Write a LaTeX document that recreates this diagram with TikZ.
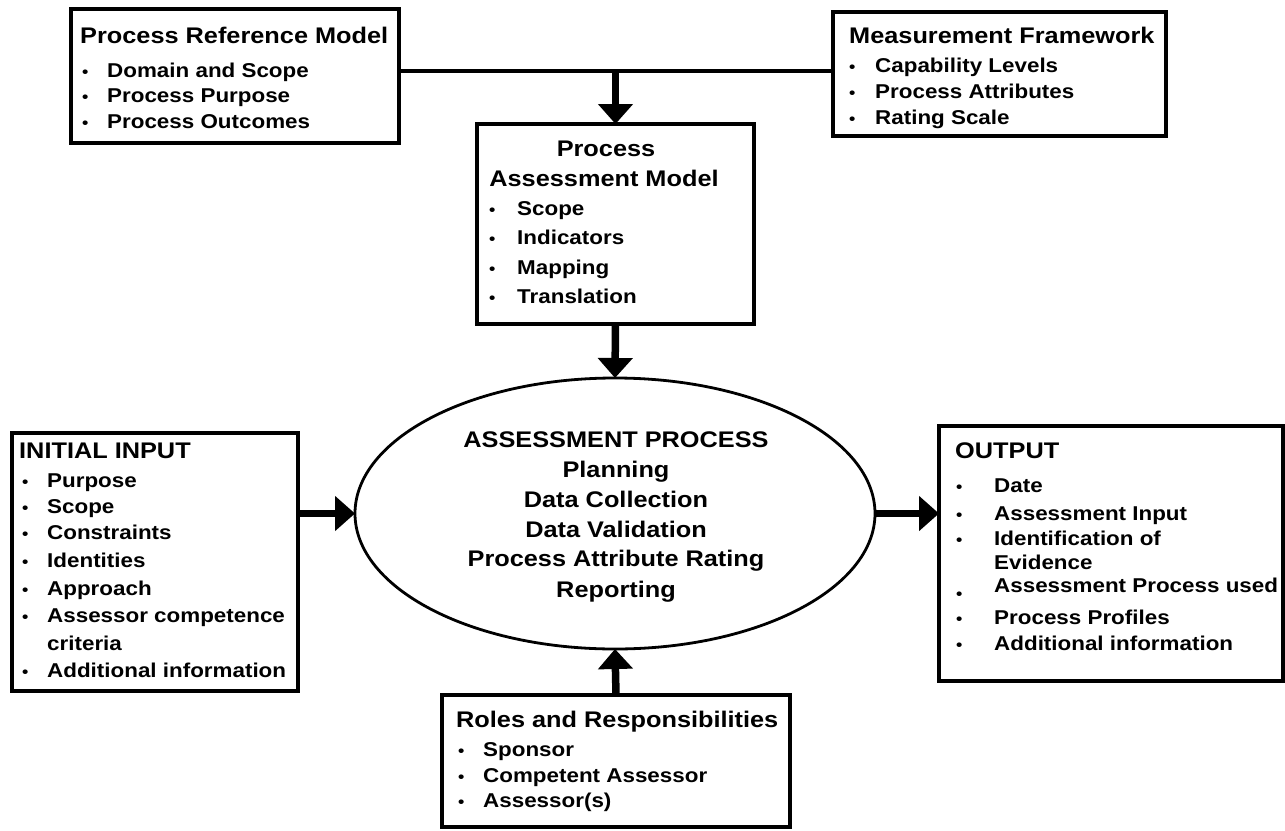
\documentclass[tikz,border=0pt]{standalone}
\usepackage{fontspec}
\setmainfont{Liberation Sans}[FakeStretch=1.12]
\usetikzlibrary{shapes.geometric,arrows.meta}
% #1 name, #2 bullet x, #3 text x, #4 baseline y, #5 text
\newcommand{\bulletline}[5]{%
  \node[bulletdot] (#1b) at (#2,#4) {•};
  \node[itemtext] (#1) at (#3,#4) {#5};}
\begin{document}
\begin{tikzpicture}[x=1pt,y=-1pt,
  box/.style={draw=black, line width=3.2pt, rectangle, inner sep=0pt, outer sep=0pt, anchor=north west},
  titletext/.style={font=\fontsize{22.6}{27}\selectfont\bfseries, inner sep=0pt, anchor=base west},
  itemtext/.style={font=\fontsize{20}{24}\selectfont\bfseries, inner sep=0pt, anchor=base west},
  bulletdot/.style={font=\fontsize{16}{18}\selectfont\bfseries, inner sep=0pt, anchor=base west},
  centertext/.style={font=\fontsize{22.6}{27}\selectfont\bfseries, inner sep=0pt, anchor=base},
  bigarrow/.style={line width=7.5pt, -{Triangle[length=20pt,width=34pt]}},
  joinline/.style={line width=4pt}]
\fill[white] (0,0) rectangle (1285,830);
\useasboundingbox (0,0) rectangle (1285,830);

% boxes
\node[box, minimum width=328pt, minimum height=134pt] (prm) at (71,9) {};
\node[box, minimum width=333pt, minimum height=124pt] (mf) at (833,12) {};
\node[box, minimum width=277pt, minimum height=200pt] (pam) at (477,124) {};
\node[draw=black, line width=2.8pt, ellipse, minimum width=520pt, minimum height=271pt, inner sep=0pt, outer sep=0pt] (ap) at (615,513.5) {};
\node[box, minimum width=286pt, minimum height=258pt] (ii) at (12,433) {};
\node[box, minimum width=344pt, minimum height=255pt] (out) at (939,426) {};
\node[box, minimum width=348pt, minimum height=132pt] (rr) at (442,695) {};

% connectors
\coordinate (j) at (615.5,71);
\draw[joinline] (j -| prm.east) -- (j -| mf.west);
\draw[bigarrow] (j) -- (pam.north);
\draw[bigarrow] (pam.south) -- (ap.north);
\draw[bigarrow] (ap.west -| ii.east) -- (ap.west);
\draw[bigarrow] (ap.east) -- (ap.east -| out.west);
\draw[bigarrow] (rr.north) -- (ap.south);

% Process Reference Model
\node[titletext] (prmt) at (80,43) {Process Reference Model};
\bulletline{prma}{82}{107}{77}{Domain and Scope}
\bulletline{prmb}{82}{107}{102}{Process Purpose}
\bulletline{prmc}{82}{107}{128}{Process Outcomes}

% Measurement Framework
\node[titletext] (mft) at (849,43) {Measurement Framework};
\bulletline{mfa}{849}{875}{72}{Capability Levels}
\bulletline{mfb}{849}{875}{98}{Process Attributes}
\bulletline{mfc}{849}{875}{124}{Rating Scale}

% Process Assessment Model
\node[centertext] (pamt1) at (606,156) {Process};
\node[centertext] (pamt2) at (604,186) {Assessment Model};
\bulletline{pama}{489}{517}{215}{Scope}
\bulletline{pamb}{489}{517}{244}{Indicators}
\bulletline{pamc}{489}{517}{274}{Mapping}
\bulletline{pamd}{489}{517}{303}{Translation}

% Assessment process
\node[centertext] (apa) at (616,447) {ASSESSMENT PROCESS};
\node[centertext] (apb) at (616,477) {Planning};
\node[centertext] (apc) at (616,507) {Data Collection};
\node[centertext] (apd) at (616,537) {Data Validation};
\node[centertext] (ape) at (616,566) {Process Attribute Rating};
\node[centertext] (apf) at (616,597) {Reporting};

% Initial input
\node[titletext] (iit) at (19,458) {INITIAL INPUT};
\bulletline{iia}{22}{47}{487}{Purpose}
\bulletline{iib}{22}{47}{513}{Scope}
\bulletline{iic}{22}{47}{539}{Constraints}
\bulletline{iid}{22}{47}{567}{Identities}
\bulletline{iie}{22}{47}{595}{Approach}
\bulletline{iif}{22}{47}{622}{Assessor competence}
\node[itemtext] (iif2) at (47,650) {criteria};
\bulletline{iig}{22}{47}{677}{Additional information}

% Output
\node[titletext] (outt) at (955,458) {OUTPUT};
\bulletline{outa}{956}{994}{492}{Date}
\bulletline{outb}{956}{994}{520}{Assessment Input}
\bulletline{outc}{956}{994}{545}{Identification of}
\node[itemtext] (outc2) at (994,569) {Evidence};
\node[bulletdot] (outdb) at (956,599) {•};
\node[itemtext] (outd) at (994,592) {Assessment Process used};
\bulletline{oute}{956}{994}{624}{Process Profiles}
\bulletline{outf}{956}{994}{650}{Additional information}

% Roles and responsibilities
\node[titletext] (rrt) at (456,727) {Roles and Responsibilities};
\bulletline{rra}{458}{483}{756}{Sponsor}
\bulletline{rrb}{458}{483}{782}{Competent Assessor}
\bulletline{rrc}{458}{483}{807}{Assessor(s)}
\end{tikzpicture}
\end{document}
